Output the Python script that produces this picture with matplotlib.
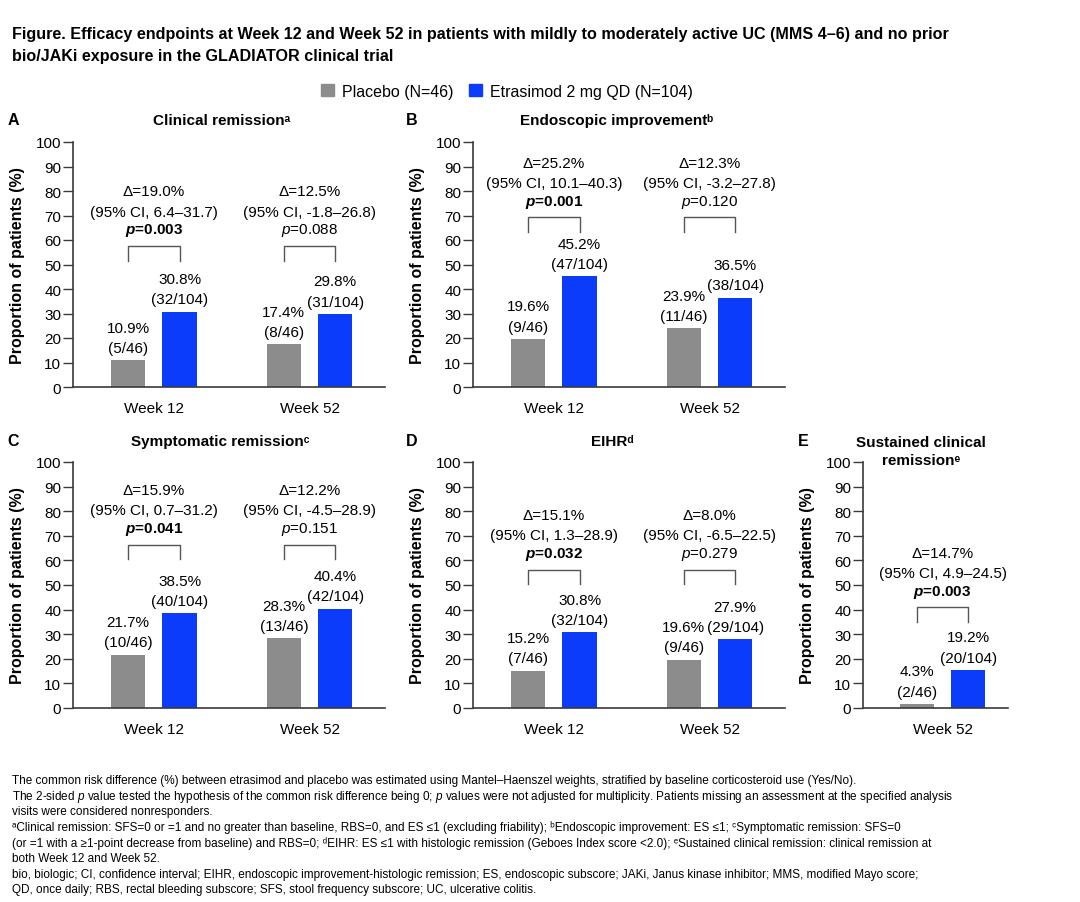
import numpy as np
import matplotlib
matplotlib.use("Agg")
import matplotlib.pyplot as plt
from matplotlib.patches import Patch

plt.rcParams['font.family'] = ['Liberation Sans', 'DejaVu Sans']
plt.rcParams['mathtext.fontset'] = 'custom'
plt.rcParams['mathtext.rm'] = 'Liberation Sans'
plt.rcParams['mathtext.it'] = 'Liberation Sans:italic'
plt.rcParams['mathtext.bf'] = 'Liberation Sans:bold'
plt.rcParams['mathtext.bfit'] = 'Liberation Sans:italic:bold'

# --- DATA ---
panel_letters = ["A", "B", "C", "D", "E"]
panel_titles = ["Clinical remission\u1d43", "Endoscopic improvement\u1d47",
                "Symptomatic remission\u1d9c", "EIHR\u1d48",
                "Sustained clinical\nremission\u1d49"]
weeks = [["Week 12", "Week 52"], ["Week 12", "Week 52"], ["Week 12", "Week 52"],
         ["Week 12", "Week 52"], ["Week 52"]]

# reported percentages (labels)
placebo_pct = [[10.9, 17.4], [19.6, 23.9], [21.7, 28.3], [15.2, 19.6], [4.3]]
etra_pct = [[30.8, 29.8], [45.2, 36.5], [38.5, 40.4], [30.8, 27.9], [19.2]]
placebo_n = [[5, 8], [9, 11], [10, 13], [7, 9], [2]]
etra_n = [[32, 31], [47, 38], [40, 42], [32, 29], [20]]
# bar heights as drawn (panel E bars are drawn shorter than labelled in the source)
placebo_bar = [[10.9, 17.4], [19.6, 23.9], [21.7, 28.3], [15.2, 19.6], [1.7]]
etra_bar = [[30.8, 29.8], [45.2, 36.5], [38.5, 40.4], [30.8, 27.9], [15.4]]

delta = [[19.0, 12.5], [25.2, 12.3], [15.9, 12.2], [15.1, 8.0], [14.7]]
ci_low = [[6.4, -1.8], [10.1, -3.2], [0.7, -4.5], [1.3, -6.5], [4.9]]
ci_high = [[31.7, 26.8], [40.3, 27.8], [31.2, 28.9], [28.9, 22.5], [24.5]]
p_vals = [["0.003", "0.088"], ["0.001", "0.120"], ["0.041", "0.151"],
          ["0.032", "0.279"], ["0.003"]]

legend_labels = ["Placebo (N=46)", "Etrasimod 2 mg QD (N=104)"]

GRAY = "#8c8c8c"
BLUE = "#0a3cfa"
AXC = "#3a3a3a"

W, H = 1080, 903
fig = plt.figure(figsize=(W / 100, H / 100), dpi=100)


def px_axes(x0, y0, x1, y1):
    return fig.add_axes([x0 / W, 1 - y1 / H, (x1 - x0) / W, (y1 - y0) / H])


# layout in pixels
axes_px = [(73, 143, 385, 388), (473, 143, 785, 388), (73, 463, 385, 709),
           (473, 463, 785, 709), (863, 463, 1008, 709)]
xlims = [(-0.52, 1.485)] * 4 + [(-0.51, 0.42)]
bracket_y = [57.6, 69.3, 66.4, 56.3, 41.0]
letter_pos = [(13, 121), (412, 121), (13, 442), (412, 442), (803, 442)]
title_pos = [(222, 121), (617, 121), (220, 442), (612, 442), (921, 452)]

for i in range(5):
    ax = px_axes(*axes_px[i])
    x = np.arange(len(weeks[i]))
    ax.bar(x - 0.165, placebo_bar[i], 0.22, color=GRAY)
    ax.bar(x + 0.165, etra_bar[i], 0.22, color=BLUE)
    ax.set_xlim(*xlims[i])
    ax.set_ylim(0, 100)
    ax.set_yticks(range(0, 101, 10))
    ax.set_xticks(x)
    ax.set_xticklabels(weeks[i], fontsize=11)
    for s in ["top", "right"]:
        ax.spines[s].set_visible(False)
    for s in ["left", "bottom"]:
        ax.spines[s].set_color(AXC)
        ax.spines[s].set_linewidth(1.2)
    ax.tick_params(axis="y", direction="out", length=7, width=1.0, color=AXC,
                   labelsize=11, pad=1.5)
    ax.tick_params(axis="x", length=0, pad=10)
    ax.set_ylabel("Proportion of patients (%)", fontsize=11.5, fontweight="bold")
    ax.yaxis.set_label_coords(-48 / (axes_px[i][2] - axes_px[i][0]), 0.5)

    # bar labels
    for j in range(len(x)):
        for off, h, pct, n, tot in [(-0.165, placebo_bar[i][j], placebo_pct[i][j], placebo_n[i][j], 46),
                                    (0.165, etra_bar[i][j], etra_pct[i][j], etra_n[i][j], 104)]:
            ax.text(x[j] + off, h + 13.3, f"{pct:.1f}%", ha="center", va="center", fontsize=11)
            ax.text(x[j] + off, h + 5.0, f"({n}/{tot})", ha="center", va="center", fontsize=11)

        # bracket + stats
        by = bracket_y[i]
        ax.plot([x[j] - 0.165, x[j] - 0.165, x[j] + 0.165, x[j] + 0.165],
                [by - 6, by, by, by - 6], color="#555555", lw=1.0)
        ax.text(x[j], by + 22.2, f"\u0394={delta[i][j]:.1f}%", ha="center", va="center", fontsize=11)
        ax.text(x[j], by + 14.0, f"(95% CI, {ci_low[i][j]:.1f}\u2013{ci_high[i][j]:.1f})",
                ha="center", va="center", fontsize=11)
        if float(p_vals[i][j]) < 0.05:
            ax.text(x[j], by + 6.5, r"$\mathbfit{p}$=" + p_vals[i][j], ha="center", va="center",
                    fontsize=11, fontweight="bold")
        else:
            ax.text(x[j], by + 6.5, r"$\mathit{p}$=" + p_vals[i][j], ha="center", va="center",
                    fontsize=11)

    lx, ly = letter_pos[i]
    fig.text(lx / W, 1 - ly / H, panel_letters[i], ha="center", va="center",
             fontsize=11.5, fontweight="bold")
    tx, ty = title_pos[i]
    fig.text(tx / W, 1 - ty / H, panel_titles[i], ha="center", va="center",
             fontsize=11, fontweight="bold", linespacing=1.4)

# --- TITLE ---
fig.text(12 / W, 1 - 35 / H,
         "Figure. Efficacy endpoints at Week 12 and Week 52 in patients with mildly to moderately active UC (MMS 4\u20136) and no prior",
         ha="left", va="center", fontsize=11.6, fontweight="bold")
fig.text(12 / W, 1 - 57 / H, "bio/JAKi exposure in the GLADIATOR clinical trial",
         ha="left", va="center", fontsize=11.6, fontweight="bold")

# --- LEGEND ---
handles = [Patch(color=GRAY), Patch(color=BLUE)]
fig.legend(handles, legend_labels, loc="center", bbox_to_anchor=(507 / W, 1 - 92 / H),
           ncol=2, frameon=False, fontsize=11.5, handlelength=0.8, handleheight=0.8,
           handletextpad=0.5, columnspacing=1.0)

# --- FOOTNOTES ---
notes = [
    "The common risk difference (%) between etrasimod and placebo was estimated using Mantel\u2013Haenszel weights, stratified by baseline corticosteroid use (Yes/No).",
    r"The 2-sided $\mathit{p}$ value tested the hypothesis of the common risk difference being 0; $\mathit{p}$ values were not adjusted for multiplicity. Patients missing an assessment at the specified analysis",
    "visits were considered nonresponders.",
    "\u1d43Clinical remission: SFS=0 or =1 and no greater than baseline, RBS=0, and ES \u22641 (excluding friability); \u1d47Endoscopic improvement: ES \u22641; \u1d9cSymptomatic remission: SFS=0",
    "(or =1 with a \u22651-point decrease from baseline) and RBS=0; \u1d48EIHR: ES \u22641 with histologic remission (Geboes Index score <2.0); \u1d49Sustained clinical remission: clinical remission at",
    "both Week 12 and Week 52.",
    "bio, biologic; CI, confidence interval; EIHR, endoscopic improvement-histologic remission; ES, endoscopic subscore; JAKi, Janus kinase inhibitor; MMS, modified Mayo score;",
    "QD, once daily; RBS, rectal bleeding subscore; SFS, stool frequency subscore; UC, ulcerative colitis.",
]
for k, line in enumerate(notes):
    fig.text(12 / W, 1 - (781 + 15.6 * k) / H, line, ha="left", va="center", fontsize=8.5)

fig.savefig("out.png", dpi=100)
